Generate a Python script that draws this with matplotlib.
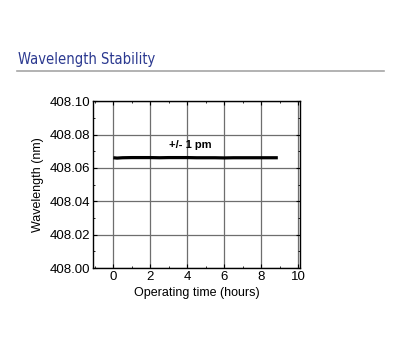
import matplotlib
matplotlib.use("Agg")
import matplotlib.pyplot as plt
from matplotlib.ticker import MultipleLocator

# data
hours = [0.0, 0.2, 0.5, 1.0, 1.5, 2.0, 2.5, 3.0, 3.5, 4.0, 4.5, 5.0,
         5.5, 6.0, 6.5, 7.0, 7.5, 8.0, 8.5, 8.9]
wavelength = [408.0661, 408.0659, 408.0661, 408.0662, 408.0662, 408.0662,
              408.0661, 408.0662, 408.0662, 408.0662, 408.0661, 408.0661,
              408.0661, 408.0660, 408.0661, 408.0661, 408.0661, 408.0661,
              408.0661, 408.0661]
xticks = [0, 2, 4, 6, 8, 10]
yticks = [408.00, 408.02, 408.04, 408.06, 408.08, 408.10]

plt.rcParams['font.family'] = ['Liberation Sans', 'DejaVu Sans']

fig = plt.figure(figsize=(4, 3.5), dpi=100)

# header
fig.text(0.045, 0.83, "Wavelength Stability", color="#2b3990", fontsize=10.5,
         family=['DejaVu Sans'], fontstretch='condensed', va='center')
fig.add_artist(plt.Line2D([0.043, 0.96], [0.797, 0.797], color="#a6a6a6", lw=1.2))

ax = fig.add_axes([0.2325, 0.234, 0.5175, 0.477])
ax.plot(hours, wavelength, color="black", lw=2.3, solid_capstyle='butt')
ax.text(4.15, 408.0738, "+/- 1 pm", fontsize=8, fontweight='bold', ha='center', va='center')

ax.set_xlim(-1.1, 10.1)
ax.set_ylim(408.00, 408.10)
ax.set_xticks(xticks)
ax.set_yticks(yticks)
ax.set_yticklabels([f"{v:.2f}" for v in yticks])
ax.xaxis.set_minor_locator(MultipleLocator(1))
ax.yaxis.set_minor_locator(MultipleLocator(0.01))
ax.grid(True, which='major', color="#6e6e6e", lw=0.9)
ax.tick_params(which='both', direction='in', top=True, right=True, labelsize=9.5, pad=2)
ax.tick_params(which='major', length=3)
ax.tick_params(which='minor', length=1.5)
for s in ax.spines.values():
    s.set_linewidth(1.0)
ax.set_xlabel("Operating time (hours)", fontsize=9, labelpad=3)
ax.set_ylabel("Wavelength (nm)", fontsize=9, labelpad=4)

fig.savefig("out.png", dpi=100)
